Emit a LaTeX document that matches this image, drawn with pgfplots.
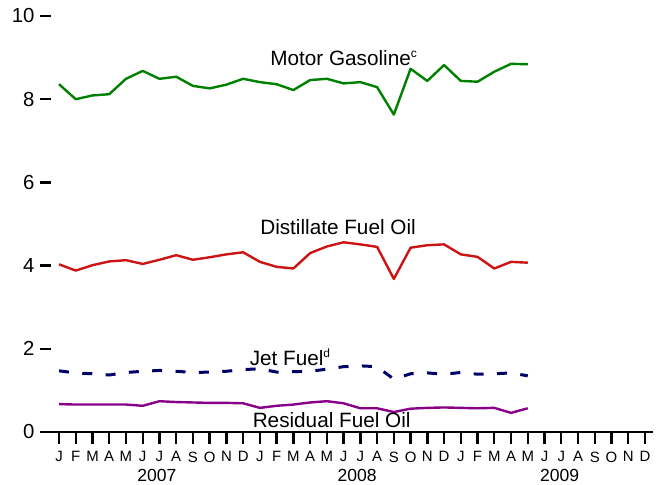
\documentclass[border=0pt]{standalone}
\usepackage{fontspec}
\setmainfont{Liberation Sans}
\usepackage{pgfplots}
\pgfplotsset{compat=1.18}
\usepackage{pgfplotstable}

\definecolor{gasgreen}{RGB}{0,128,0}
\definecolor{distred}{RGB}{204,20,20}
\definecolor{jetnavy}{RGB}{0,0,102}
\definecolor{residpurple}{RGB}{136,0,136}

% month index: 0 = Jan 2007
\pgfplotstableread{
m  gas  dist jet  resid
0  8.36 4.03 1.47 0.67
1  8.00 3.88 1.42 0.66
2  8.09 4.01 1.40 0.66
3  8.12 4.10 1.37 0.66
4  8.49 4.13 1.43 0.66
5  8.68 4.04 1.46 0.63
6  8.49 4.14 1.48 0.74
7  8.54 4.25 1.46 0.72
8  8.32 4.14 1.43 0.71
9  8.26 4.20 1.44 0.70
10 8.35 4.27 1.46 0.70
11 8.49 4.32 1.50 0.69
12 8.41 4.09 1.52 0.58
13 8.36 3.97 1.44 0.63
14 8.22 3.93 1.45 0.66
15 8.46 4.30 1.46 0.71
16 8.49 4.46 1.51 0.74
17 8.38 4.56 1.57 0.69
18 8.41 4.51 1.59 0.57
19 8.29 4.45 1.57 0.57
20 7.63 3.68 1.27 0.48
21 8.73 4.43 1.40 0.56
22 8.44 4.49 1.42 0.58
23 8.82 4.51 1.39 0.59
24 8.44 4.27 1.43 0.58
25 8.42 4.21 1.39 0.57
26 8.66 3.93 1.40 0.58
27 8.85 4.09 1.42 0.46
28 8.84 4.07 1.35 0.57
}\prices

\begin{document}
\begin{tikzpicture}
\useasboundingbox (0,0) rectangle (331.5bp,242.5bp);
\begin{axis}[
  at={(20bp,26.5bp)}, anchor=south west,
  scale only axis, width=306.5bp, height=208bp,
  xmin=-1.135, xmax=35.48, ymin=0, ymax=10,
  axis x line=bottom, axis y line=left,
  axis line style={-, line width=1.1bp},
  y axis line style={draw=none},
  xtick={0,...,35},
  xticklabels={J,F,M,A,M,J,J,A,S,O,N,D,J,F,M,A,M,J,J,A,S,O,N,D,J,F,M,A,M,J,J,A,S,O,N,D},
  ytick={0,2,...,10},
  xtick align=outside, ytick align=inside,
  major tick length=5.75bp,
  tick style={black, line width=1.2bp},
  /pgf/number format/assume math mode=true,
  yticklabel style={font=\fontsize{10.2}{12}\selectfont, inner sep=0pt, anchor=east, xshift=-2.6bp},
  xticklabel style={font=\fontsize{7.5}{9}\selectfont, inner sep=0pt, anchor=north, yshift=-3.9bp},
  clip=false,
  every axis plot/.append style={line width=1.2bp, line join=round, mark=none},
]
\addplot[gasgreen] table[x=m, y=gas] {\prices};
\addplot[distred] table[x=m, y=dist] {\prices};
\addplot[jetnavy, line width=1.5bp, dash pattern=on 5bp off 6.7bp] table[x=m, y=jet] {\prices};
\addplot[residpurple] table[x=m, y=resid] {\prices};

\node[anchor=base west, inner sep=0pt, font=\fontsize{10.4}{12}\selectfont] at (axis cs:12.6,8.82) {Motor Gasoline\textsuperscript{\fontsize{6}{7}\selectfont c}};
\node[anchor=base west, inner sep=0pt, font=\fontsize{10.4}{12}\selectfont] at (axis cs:12.0,4.74) {Distillate Fuel Oil};
\node[anchor=base west, inner sep=0pt, font=\fontsize{10.4}{12}\selectfont] at (axis cs:11.37,1.61) {Jet Fuel\textsuperscript{\fontsize{6}{7}\selectfont d}};
\node[anchor=base west, inner sep=0pt, font=\fontsize{10.4}{12}\selectfont] at (axis cs:11.55,0.10) {Residual Fuel Oil};

\node[anchor=base, inner sep=0pt, font=\fontsize{8.8}{10}\selectfont] at (axis cs:5.85,-1.195) {2007};
\node[anchor=base, inner sep=0pt, font=\fontsize{8.8}{10}\selectfont] at (axis cs:17.8,-1.195) {2008};
\node[anchor=base, inner sep=0pt, font=\fontsize{8.8}{10}\selectfont] at (axis cs:29.9,-1.195) {2009};
\end{axis}
\end{tikzpicture}
\end{document}
